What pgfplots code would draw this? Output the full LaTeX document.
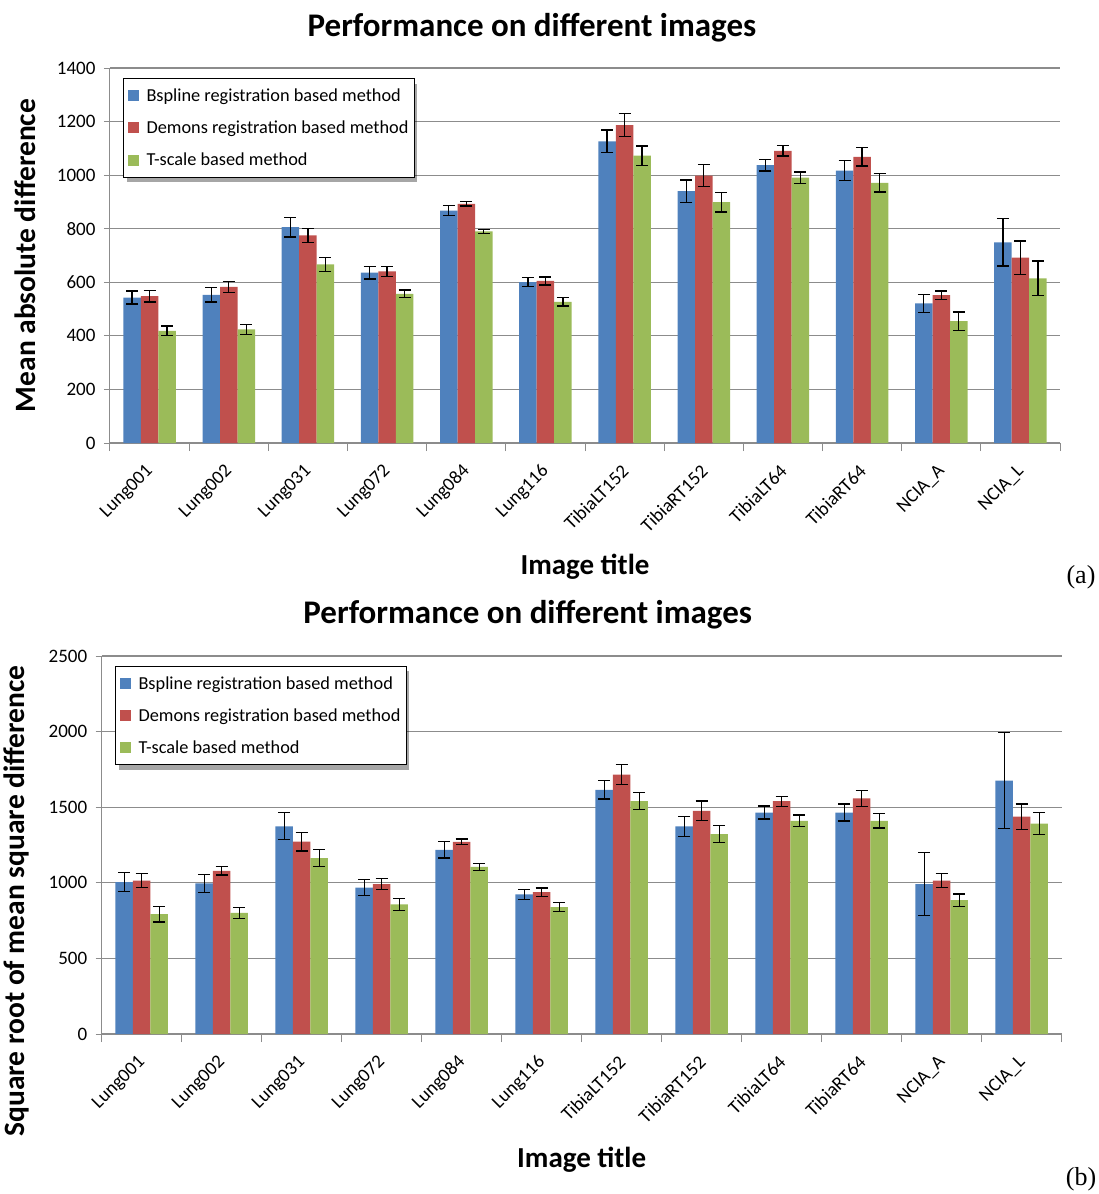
\documentclass[border=0pt]{standalone}
\usepackage{fontspec}
\setmainfont{Carlito}
\newfontfamily\serif{Liberation Serif}
\usepackage{pgfplots}
\usepackage{pgfplotstable}
\pgfplotsset{compat=1.18}
\usetikzlibrary{shadows}

\definecolor{cB}{HTML}{4F81BD}
\definecolor{cR}{HTML}{C0504D}
\definecolor{cG}{HTML}{9BBB59}
\definecolor{gridc}{HTML}{8C8C8C}

\pgfplotstableread{
x b be r re g ge
0 543 24 548 22 419 18
1 553 27 583 20 424 19
2 806 37 775 27 667 26
3 636 24 641 19 557 14
4 868 19 893 8 790 8
5 601 16 605 15 527 16
6 1126 42 1187 44 1073 36
7 940 42 998 41 899 37
8 1037 21 1091 20 991 21
9 1017 37 1068 34 971 34
10 521 34 552 15 455 34
11 749 88 692 62 615 65
}\madtab

\pgfplotstableread{
x b be r re g ge
0 1004 62 1015 47 793 52
1 996 61 1079 28 802 37
2 1374 89 1273 62 1163 57
3 969 55 991 37 857 39
4 1218 53 1271 19 1106 23
5 923 33 938 28 839 29
6 1615 61 1716 65 1540 56
7 1374 66 1476 65 1322 56
8 1465 43 1540 33 1410 38
9 1465 56 1559 53 1410 47
10 991 208 1015 47 885 42
11 1676 319 1438 84 1392 73
}\rmsetab

\newcommand\legsq[1]{%
  \pgfsetfillcolor{#1}%
  \pgfpathrectangle{\pgfpoint{0pt}{-5.5pt}}{\pgfpoint{11pt}{11pt}}%
  \pgfusepath{fill}%
  \pgfpathmoveto{\pgfpoint{17pt}{0pt}}%
  \pgfusepath{}%
}

\pgfplotsset{
  myaxis/.style={
    scale only axis,
    ybar=0pt, bar width=17.5pt,
    xmin=-0.5, xmax=11.5,
    ymin=0,
    xtick={0,...,11},
    xticklabels={Lung001,Lung002,Lung031,Lung072,Lung084,Lung116,TibiaLT152,TibiaRT152,TibiaLT64,TibiaRT64,NCIA\_A,NCIA\_L},
    minor xtick={-0.5,0.5,...,11.5},
    major x tick style={draw=none},
    minor x tick style={gridc, line width=1pt},
    minor tick length=8pt,
    major tick length=6pt,
    tick align=outside,
    tick pos=left,
    axis lines*=left,
    axis line style={gridc, line width=1pt},
    y tick style={gridc, line width=1pt},
    ymajorgrids, grid style={gridc, line width=1.2pt},
    x tick label style={yshift=-17pt, xshift=3pt, rotate=45, anchor=east, font=\fontsize{19}{22}\selectfont},
    y tick label style={xshift=-5pt, font=\fontsize{19}{22}\selectfont},
    /pgf/number format/assume math mode=true,
    /pgf/number format/1000 sep={},
    title={Performance on different images},
    xlabel={Image title},
    legend cell align=left,
  },
  errb/.style={error bars/.cd, y dir=both, y explicit,
    error bar style={black, line width=1.3pt},
    error mark options={black, rotate=90, mark size=6pt, line width=1.3pt}},
  legB/.style={legend image code/.code={\legsq{cB}}},
  legR/.style={legend image code/.code={\legsq{cR}}},
  legG/.style={legend image code/.code={\legsq{cG}}},
  mylegend/.style={legend style={anchor=north west, draw=black, line width=1pt, fill=white,
    font=\fontsize{18.3}{21}\selectfont, row sep=14pt, inner xsep=4pt, inner ysep=8pt,
    drop shadow={shadow xshift=3pt, shadow yshift=-5pt, opacity=0.35, fill=black}}},
}

\begin{document}
\begin{tikzpicture}
\useasboundingbox (0pt,0pt) rectangle (1099pt,-1194pt);

% ---------- (a) ----------
\begin{axis}[myaxis, mylegend,
  at={(110pt,-443pt)}, anchor=south west,
  width=950pt, height=375pt,
  ymax=1400, ytick={0,200,...,1400},
  ylabel={Mean absolute difference},
  title style={font=\bfseries\fontsize{33}{38}\selectfont, at={(axis description cs:0.4442,1.0907)}, anchor=center},
  xlabel style={font=\bfseries\fontsize{29}{33}\selectfont, at={(axis description cs:0.5,-0.3307)}, anchor=center},
  ylabel style={font=\bfseries\fontsize{29.5}{34}\selectfont, at={(axis description cs:-0.0895,0.5)}, anchor=center},
  legend style={at={(0.0137,0.973)}},
]
\addplot[fill=cB, draw=none, legB, errb] table[x=x, y=b, y error=be]{\madtab};
\addplot[fill=cR, draw=none, legR, errb] table[x=x, y=r, y error=re]{\madtab};
\addplot[fill=cG, draw=none, legG, errb] table[x=x, y=g, y error=ge]{\madtab};
\legend{Bspline registration based method, Demons registration based method, T-scale based method}
\end{axis}

% ---------- (b) ----------
\begin{axis}[myaxis, mylegend,
  at={(101.7pt,-1034pt)}, anchor=south west,
  width=960pt, height=378pt,
  ymax=2500, ytick={0,500,...,2500},
  ylabel={Square root of mean square difference},
  title style={font=\bfseries\fontsize{33}{38}\selectfont, at={(axis description cs:0.4438,1.0926)}, anchor=center},
  xlabel style={font=\bfseries\fontsize{29}{33}\selectfont, at={(axis description cs:0.5,-0.3333)}, anchor=center},
  ylabel style={font=\bfseries\fontsize{29.5}{34}\selectfont, at={(axis description cs:-0.0885,0.352)}, anchor=center},
  legend style={at={(0.0139,0.974)}},
]
\addplot[fill=cB, draw=none, legB, errb] table[x=x, y=b, y error=be]{\rmsetab};
\addplot[fill=cR, draw=none, legR, errb] table[x=x, y=r, y error=re]{\rmsetab};
\addplot[fill=cG, draw=none, legG, errb] table[x=x, y=g, y error=ge]{\rmsetab};
\legend{Bspline registration based method, Demons registration based method, T-scale based method}
\end{axis}

\node[font=\serif\fontsize{26}{30}\selectfont] at (1081pt,-577pt) {(a)};
\node[font=\serif\fontsize{26}{30}\selectfont] at (1081pt,-1179pt) {(b)};
\end{tikzpicture}
\end{document}
